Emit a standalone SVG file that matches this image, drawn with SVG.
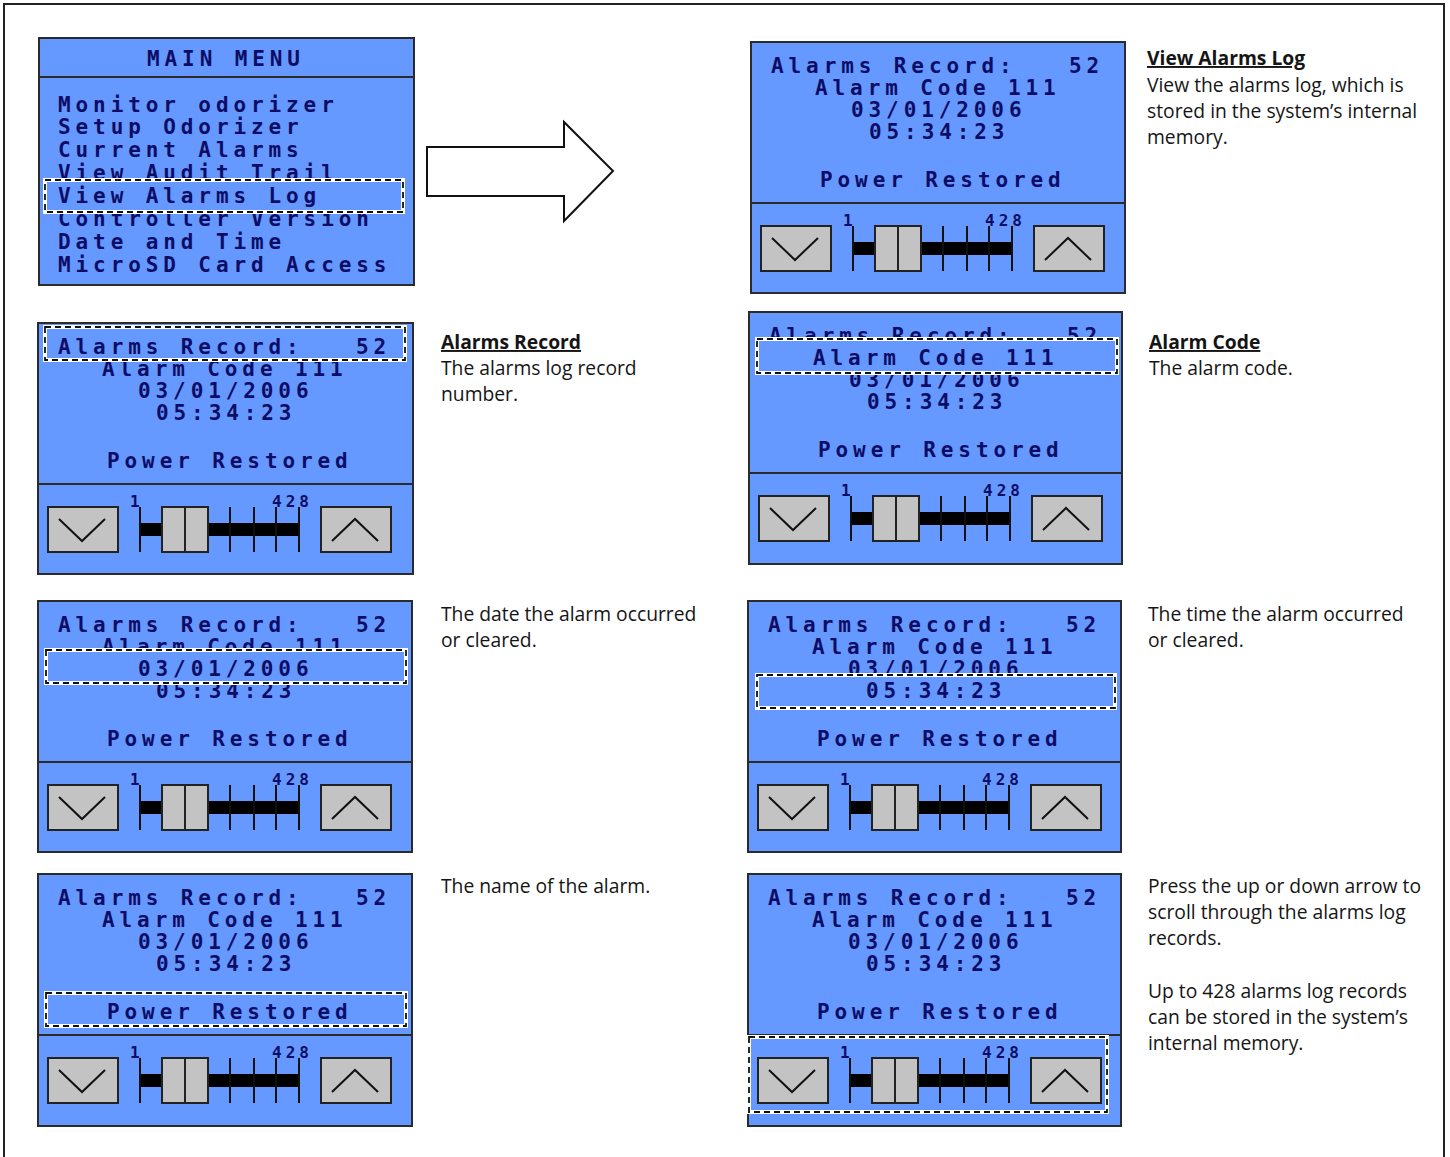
<svg xmlns="http://www.w3.org/2000/svg" xmlns:xlink="http://www.w3.org/1999/xlink" width="1450" height="1157" viewBox="0 0 1450 1157">
  <style>
    .scr { fill: #6699ff; stroke: #2b2b2b; stroke-width: 2; }
    .div { stroke: #2b2b2b; stroke-width: 2; fill: none; }
    .lcd { font-family: "DejaVu Sans Mono", monospace; font-weight: bold; font-size: 21px; letter-spacing: 4.9px; fill: #0d0d66; }
    .num { font-family: "DejaVu Sans Mono", monospace; font-weight: bold; font-size: 16px; letter-spacing: 4px; fill: #0d0d66; }
    .hlw { fill: #6699ff; stroke: #ffffff; stroke-width: 4; }
    .hlo { fill: none; stroke: #ffffff; stroke-width: 4; }
    .hld { fill: none; stroke: #111111; stroke-width: 1.8; stroke-dasharray: 6 4; }
    .btn { fill: #c3c3c3; stroke: #222222; stroke-width: 2; }
    .chev { fill: none; stroke: #111111; stroke-width: 2; }
    .tick { stroke: #111111; stroke-width: 2; }
    .note { font-family: "Open Sans", "Liberation Sans", sans-serif; font-size: 19.3px; fill: #151515; }
    .head { font-weight: bold; text-decoration: underline; }
  </style>
  <defs>
    <!-- record screen text lines, relative to the screen's top-left corner -->
    <text id="ln1" class="lcd" x="20" y="31">Alarms Record:<tspan x="318">52</tspan></text>
    <text id="ln2" class="lcd" x="64" y="53">Alarm Code 111</text>
    <text id="ln3" class="lcd" x="100" y="75">03/01/2006</text>
    <text id="ln4" class="lcd" x="118" y="97">05:34:23</text>
    <text id="ln5" class="lcd" x="69" y="145">Power Restored</text>
    <g id="rec">
      <use href="#ln1"/>
      <use href="#ln2"/>
      <use href="#ln3"/>
      <use href="#ln4"/>
      <use href="#ln5"/>
    </g>
    <!-- scroll bar strip, relative to the screen's left edge and divider line -->
    <g id="slider">
      <rect class="btn" x="10" y="23" width="70" height="45"/>
      <polyline class="chev" points="21,35 44,57 67,35"/>
      <rect x="102" y="39" width="159" height="13" fill="#000"/>
      <line class="tick" x1="102" y1="23" x2="102" y2="68"/>
      <line class="tick" x1="192" y1="23" x2="192" y2="68"/>
      <line class="tick" x1="216" y1="23" x2="216" y2="68"/>
      <line class="tick" x1="238" y1="23" x2="238" y2="68"/>
      <line class="tick" x1="261" y1="23" x2="261" y2="68"/>
      <rect class="btn" x="124" y="23" width="23" height="45"/>
      <rect class="btn" x="147" y="23" width="23" height="45"/>
      <text class="num" x="92" y="23">1</text>
      <text class="num" x="234" y="23">428</text>
      <rect class="btn" x="283" y="23" width="70" height="45"/>
      <polyline class="chev" points="294,57 317,35 340,57"/>
    </g>
  </defs>

  <!-- page frame -->
  <path d="M4,1160 V4 H1444 V1160" fill="none" stroke="#222" stroke-width="2"/>

  <!-- main menu screen -->
  <g id="main-menu">
    <rect class="scr" x="39" y="38" width="375" height="247"/>
    <line class="div" x1="39" y1="77" x2="414" y2="77"/>
    <text class="lcd" x="147" y="66">MAIN MENU</text>
    <text class="lcd" x="58" y="112">Monitor odorizer</text>
    <text class="lcd" x="58" y="134">Setup Odorizer</text>
    <text class="lcd" x="58" y="157">Current Alarms</text>
    <text class="lcd" x="58" y="180">View Audit Trail</text>
    <text class="lcd" x="58" y="226">Controller Version</text>
    <text class="lcd" x="58" y="249">Date and Time</text>
    <text class="lcd" x="58" y="272">MicroSD Card Access</text>
    <rect class="hlw" x="45" y="180" width="358" height="32"/>
    <rect class="hld" x="45" y="180" width="358" height="32"/>
    <text class="lcd" x="58" y="203">View Alarms Log</text>
  </g>

  <!-- connectors -->
  <g id="connectors">
    <polygon points="427,147 564,147 564,122 613,171 564,221 564,196 427,196" fill="#fff" stroke="#111" stroke-width="2"/>
  </g>

  <!-- view alarms log screen -->
  <g id="screen-view">
    <rect class="scr" x="751" y="42" width="374" height="251"/>
    <line class="div" x1="751" y1="203" x2="1125" y2="203"/>
    <use href="#rec" x="751" y="42"/>
    <use href="#slider" x="751" y="203"/>
  </g>

  <!-- alarms record highlighted -->
  <g id="screen-record">
    <rect class="scr" x="38" y="323" width="375" height="251"/>
    <line class="div" x1="38" y1="484" x2="413" y2="484"/>
    <use href="#rec" x="38" y="323"/>
    <rect class="hlw" x="45" y="327" width="360" height="33"/>
    <rect class="hld" x="45" y="327" width="360" height="33"/>
    <use href="#ln1" x="38" y="323"/>
    <use href="#slider" x="38" y="484"/>
  </g>

  <!-- alarm code highlighted -->
  <g id="screen-code">
    <rect class="scr" x="749" y="312" width="373" height="252"/>
    <line class="div" x1="749" y1="473" x2="1122" y2="473"/>
    <use href="#rec" x="749" y="312"/>
    <rect class="hlw" x="757" y="339" width="360" height="34"/>
    <rect class="hld" x="757" y="339" width="360" height="34"/>
    <use href="#ln2" x="749" y="312"/>
    <use href="#slider" x="749" y="473"/>
  </g>

  <!-- date highlighted -->
  <g id="screen-date">
    <rect class="scr" x="38" y="601" width="374" height="251"/>
    <line class="div" x1="38" y1="762" x2="412" y2="762"/>
    <use href="#rec" x="38" y="601"/>
    <rect class="hlw" x="46" y="650" width="360" height="33"/>
    <rect class="hld" x="46" y="650" width="360" height="33"/>
    <use href="#ln3" x="38" y="601"/>
    <use href="#slider" x="38" y="762"/>
  </g>

  <!-- time highlighted -->
  <g id="screen-time">
    <rect class="scr" x="748" y="601" width="373" height="251"/>
    <line class="div" x1="748" y1="762" x2="1121" y2="762"/>
    <use href="#rec" x="748" y="601"/>
    <rect class="hlw" x="757" y="675" width="358" height="33"/>
    <rect class="hld" x="757" y="675" width="358" height="33"/>
    <use href="#ln4" x="748" y="601"/>
    <use href="#slider" x="748" y="762"/>
  </g>

  <!-- alarm name highlighted -->
  <g id="screen-name">
    <rect class="scr" x="38" y="874" width="374" height="252"/>
    <line class="div" x1="38" y1="1035" x2="412" y2="1035"/>
    <use href="#rec" x="38" y="874"/>
    <rect class="hlw" x="46" y="993" width="360" height="33"/>
    <rect class="hld" x="46" y="993" width="360" height="33"/>
    <use href="#ln5" x="38" y="874"/>
    <use href="#slider" x="38" y="1035"/>
  </g>

  <!-- scroll bar highlighted -->
  <g id="screen-scroll">
    <rect class="scr" x="748" y="874" width="373" height="252"/>
    <line class="div" x1="748" y1="1035" x2="1121" y2="1035"/>
    <use href="#rec" x="748" y="874"/>
    <use href="#slider" x="748" y="1035"/>
    <rect class="hlo" x="749" y="1037" width="358" height="75"/>
    <rect class="hld" x="749" y="1037" width="358" height="75"/>
  </g>

  <!-- descriptions -->
  <g id="note-view">
    <text class="note head" x="1147" y="65">View Alarms Log</text>
    <text class="note" x="1147" y="92">View the alarms log, which is</text>
    <text class="note" x="1147" y="118">stored in the system’s internal</text>
    <text class="note" x="1147" y="144">memory.</text>
  </g>
  <g id="note-record">
    <text class="note head" x="441" y="349">Alarms Record</text>
    <text class="note" x="441" y="375">The alarms log record</text>
    <text class="note" x="441" y="401">number.</text>
  </g>
  <g id="note-code">
    <text class="note head" x="1149" y="349">Alarm Code</text>
    <text class="note" x="1149" y="375">The alarm code.</text>
  </g>
  <g id="note-date">
    <text class="note" x="441" y="621">The date the alarm occurred</text>
    <text class="note" x="441" y="647">or cleared.</text>
  </g>
  <g id="note-time">
    <text class="note" x="1148" y="621">The time the alarm occurred</text>
    <text class="note" x="1148" y="647">or cleared.</text>
  </g>
  <g id="note-name">
    <text class="note" x="441" y="893">The name of the alarm.</text>
  </g>
  <g id="note-scroll">
    <text class="note" x="1148" y="893">Press the up or down arrow to</text>
    <text class="note" x="1148" y="919">scroll through the alarms log</text>
    <text class="note" x="1148" y="945">records.</text>
    <text class="note" x="1148" y="998">Up to 428 alarms log records</text>
    <text class="note" x="1148" y="1024">can be stored in the system’s</text>
    <text class="note" x="1148" y="1050">internal memory.</text>
  </g>
</svg>
